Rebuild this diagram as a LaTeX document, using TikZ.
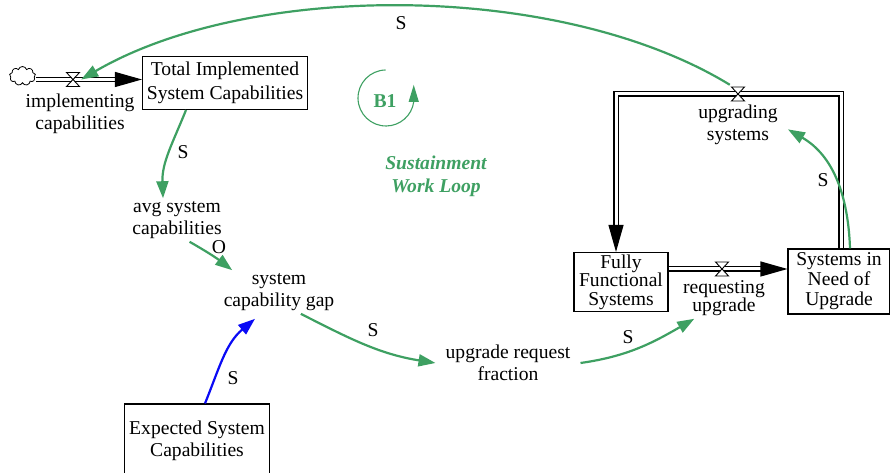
\documentclass[tikz,border=0pt]{standalone}
\usepackage{fontspec}
\setmainfont{Liberation Serif}
\newfontfamily\vensimfont{Liberation Serif}
\usetikzlibrary{positioning, arrows.meta, shapes.symbols, calc}
\definecolor{wirkgruen}{RGB}{62,160,98}
\definecolor{wirkblau}{RGB}{10,10,245}
\tikzset{bestand/.style={rectangle,draw,line width=1.1pt,inner sep=2pt,align=center},
	hilfsgr/.style={align=center,inner xsep=10pt,inner ysep=3pt},
	ventil/.style={minimum width=16pt,minimum height=18pt,inner sep=0,
		path picture={\filldraw[fill=white,line width=0.9pt]
			([shift={(-6.5pt,-7pt)}]path picture bounding box.center)
			-- ++(13pt,0) -- ++(-13pt,14pt) -- ++(13pt,0) -- cycle;}},
	rohr/.style={double,double distance=3pt,line width=1.1pt,
		-{Triangle[length=27pt,width=15pt]}},
	wirkung/.style={wirkgruen,line width=2.2pt,-{Triangle[length=17pt,width=12pt]}},
	zeichen/.style={inner sep=1pt} }

\begin{document}
\begin{tikzpicture}
	[x=1pt, y=1pt,
	 font=\vensimfont\fontsize{19.6}{22}\selectfont]
  \useasboundingbox (0,0) rectangle (890,473);

  % bestaende
  \node (tsc) [bestand, minimum width=165pt, minimum height=53pt] at (225,390)
  	{Total Implemented\\[2pt]System Capabilities};
  \node (ffs) [bestand, minimum width=94pt, minimum height=59pt,
  	font=\vensimfont\fontsize{19.6}{18.5}\selectfont] at (621,191) {Fully\\Functional\\Systems};
  \node (sin) [bestand, minimum width=102pt, minimum height=65pt,
  	font=\vensimfont\fontsize{19.6}{20}\selectfont] at (839,191.5) {Systems in\\Need of\\Upgrade};
  \node (esc) [bestand, minimum width=145pt, minimum height=74pt] at (197,32)
  	{Expected System\\Capabilities};

  % quelle und ventile
  \node (quelle) [cloud, draw, cloud puffs=9, aspect=1.4, line width=0.8pt,
  	minimum width=26pt, minimum height=19pt, inner sep=0] at (22.5,397) {};
  \coordinate (p1) at (73,393.5);
  \coordinate (p2) at (738,379);
  \coordinate (p3) at (722,204);

  % flussrohre
  \draw[rohr] (quelle.east |- p1) -- (tsc.west |- p1);
  \draw[rohr] ([xshift=2pt]sin.north) |- (p2) -| ([xshift=-5pt]ffs.north);
  \draw[rohr] (ffs.east |- p3) -- (sin.west |- p3);

  \node (v1) [ventil] at (p1) {};
  \node (v2) [ventil] at (p2) {};
  \node (v3) [ventil] at (p3) {};

  % hilfsgroessen
  \node (imp) [hilfsgr] at (80,359) {implementing\\capabilities};
  \node (upg) [hilfsgr] at (738,348) {upgrading\\systems};
  \node (req) [hilfsgr, font=\vensimfont\fontsize{19.6}{18}\selectfont] at (724,175) {requesting\\upgrade};
  \node (avg) [hilfsgr] at (177,253) {avg system\\capabilities};
  \node (gap) [hilfsgr] at (279,181) {system\\capability gap};
  \node (urf) [hilfsgr] at (508,110) {upgrade request\\fraction};

  % wirkungen
  \draw[wirkung] (v2.north west) .. controls (560,492) and (250,492) .. (v1.east);
  \node (s1) [zeichen] at (401,450) {S};
  \draw[wirkung] ([xshift=-39pt]tsc.south) to[out=-112,in=92] ([xshift=-14pt]avg.north);
  \node (s2) [zeichen] at (183,321) {S};
  \draw[wirkung] (avg.-60) to[bend left=4] (gap.155);
  \node (s3) [zeichen] at (219,226) {O};
  \draw[wirkung] (gap.-45) to[out=-27,in=171] (urf.west);
  \node (s4) [zeichen] at (373,143) {S};
  \draw[wirkung] (urf.east) to[out=8,in=-150] (req.-145);
  \node (s5) [zeichen] at (628,136) {S};
  \draw[wirkung] ([xshift=11pt]sin.north) to[out=92,in=-30] (upg.-5);
  \node (s6) [zeichen] at (823,293) {S};
  \draw[wirkblau, line width=2.2pt, -{Triangle[length=17pt,width=12pt]}]
  	([xshift=8pt]esc.north) to[out=68,in=-140] ([xshift=-24pt,yshift=-5pt]gap.south);
  \node (s7) [zeichen] at (233,95) {S};

  % schleife
  \node (b1) [text=wirkgruen, font=\vensimfont\fontsize{19.6}{22}\selectfont\bfseries] at (385,372) {B1};
  \draw[wirkgruen, line width=1.1pt, -{Triangle[length=17pt,width=10pt]}]
  	([shift={(91:28)}]386,375) arc[start angle=91, end angle=352, radius=28] -- ++(0,17);
  \node (loop) [text=wirkgruen, align=center,
  	font=\vensimfont\fontsize{19.6}{23}\selectfont\bfseries\itshape]
  	at (436,297) {Sustainment\\Work Loop};
\end{tikzpicture}
\end{document}
